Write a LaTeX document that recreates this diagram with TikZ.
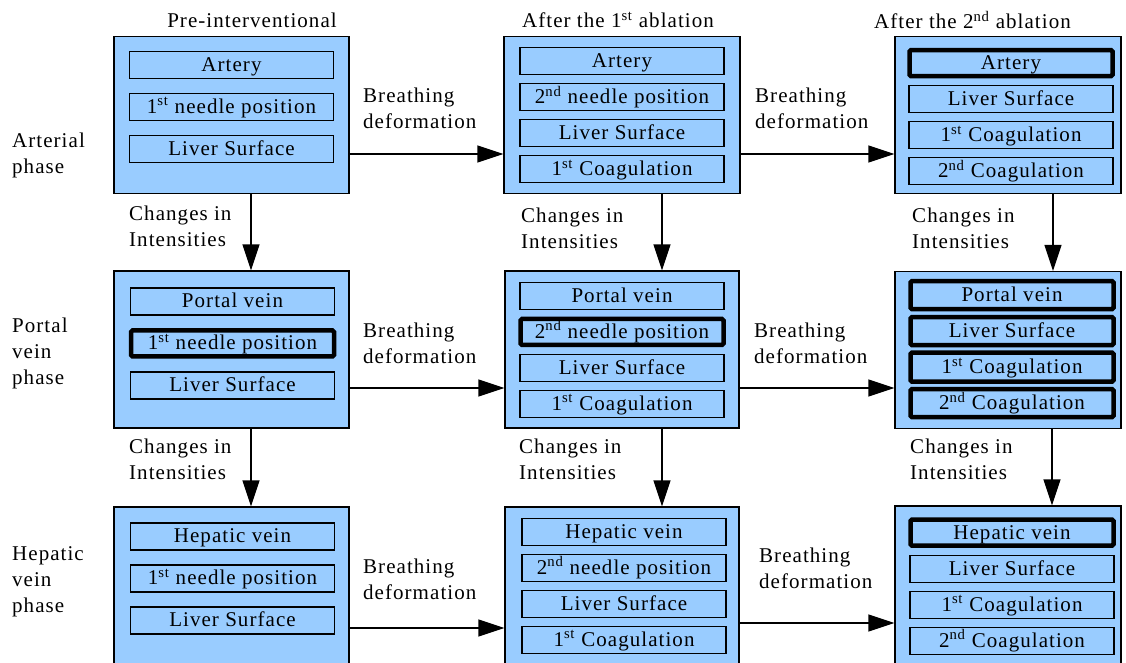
\documentclass[tikz,border=0pt]{standalone}
\usepackage{fontspec}
\setmainfont{Liberation Serif}[LetterSpace=5]
\usetikzlibrary{positioning,arrows.meta}

\definecolor{tissue}{RGB}{153,204,255}

\tikzset{
  every node/.style={font=\fontsize{21}{26}\selectfont},
  phase/.style={draw=black, fill=tissue, line width=1.2pt, minimum width=235pt, minimum height=157pt, inner sep=0pt},
  item/.style={draw=black, fill=tissue, line width=1.1pt, minimum width=204pt, minimum height=27pt, inner sep=0pt, text height=16pt, text depth=3pt},
  hot/.style={item, line width=4.5pt, rounded corners=1.5pt, minimum width=203pt, minimum height=26pt},
  note/.style={align=left, anchor=west, inner sep=0pt},
  flow/.style={line width=1.2pt, -{Triangle[length=26pt,width=17pt]}},
}

\newcommand{\st}{1\textsuperscript{st}}
\newcommand{\nd}{2\textsuperscript{nd}}

\begin{document}
\begin{tikzpicture}[x=1pt, y=-1pt, on grid]
   \useasboundingbox (0,0) rectangle (1126,663);
   \clip (0,0) rectangle (1126,663);

   % phases (rows) x ablation stages (columns)
   \node[phase]                                         (art1) at (231.5,115)   {};
   \node[phase, minimum width=236pt]                    (art2) at (622,115)     {};
   \node[phase, minimum width=226pt]                    (art3) at (1008,115)    {};
   \node[phase]                                         (por1) at (231.5,349.5) {};
   \node[phase, minimum width=234pt]                    (por2) at (622,349.5)   {};
   \node[phase, minimum width=226pt]                    (por3) at (1008,350)    {};
   \node[phase, minimum height=162pt]                   (hep1) at (231.5,588)   {};
   \node[phase, minimum width=234pt, minimum height=162pt] (hep2) at (622,588)  {};
   \node[phase, minimum width=226pt, minimum height=162pt] (hep3) at (1008,587) {};

   % arterial phase
   \node[item] (art1a) [below=15pt of art1.north] {Artery};
   \node[item] (art1b) [below=42pt of art1a] {\st{} needle position};
   \node[item] (art1c) [below=42pt of art1b] {Liver Surface};

   \node[item] (art2a) [below=11.5pt of art2.north] {Artery};
   \node[item] (art2b) [below=36pt of art2a] {\nd{} needle position};
   \node[item] (art2c) [below=36pt of art2b] {Liver Surface};
   \node[item] (art2d) [below=36pt of art2c] {\st{} Coagulation};

   \node[hot]  (art3a) [below=12pt of art3.north, xshift=3pt] {Artery};
   \node[item] (art3b) [below=36pt of art3a] {Liver Surface};
   \node[item] (art3c) [below=36pt of art3b] {\st{} Coagulation};
   \node[item] (art3d) [below=36pt of art3c] {\nd{} Coagulation};

   % portal vein phase
   \node[item] (por1a) [below=17pt of por1.north, xshift=1pt] {Portal vein};
   \node[hot]  (por1b) [below=42pt of por1a] {\st{} needle position};
   \node[item] (por1c) [below=42pt of por1b] {Liver Surface};

   \node[item] (por2a) [below=11.5pt of por2.north] {Portal vein};
   \node[hot]  (por2b) [below=36pt of por2a] {\nd{} needle position};
   \node[item] (por2c) [below=36pt of por2b] {Liver Surface};
   \node[item] (por2d) [below=36pt of por2c] {\st{} Coagulation};

   \node[hot, minimum height=28pt] (por3a) [below=8pt of por3.north, xshift=4pt] {Portal vein};
   \node[hot, minimum height=28pt] (por3b) [below=36pt of por3a] {Liver Surface};
   \node[hot, minimum height=29pt] (por3c) [below=36pt of por3b] {\st{} Coagulation};
   \node[hot, minimum height=28pt] (por3d) [below=36pt of por3c] {\nd{} Coagulation};

   % hepatic vein phase
   \node[item] (hep1a) [below=16pt of hep1.north, xshift=1pt] {Hepatic vein};
   \node[item] (hep1b) [below=42pt of hep1a] {\st{} needle position};
   \node[item] (hep1c) [below=42pt of hep1b] {Liver Surface};

   \node[item] (hep2a) [below=11.5pt of hep2.north, xshift=2pt] {Hepatic vein};
   \node[item] (hep2b) [below=36pt of hep2a] {\nd{} needle position};
   \node[item] (hep2c) [below=36pt of hep2b] {Liver Surface};
   \node[item] (hep2d) [below=36pt of hep2c] {\st{} Coagulation};

   \node[hot]  (hep3a) [below=12pt of hep3.north, xshift=4pt] {Hepatic vein};
   \node[item] (hep3b) [below=36pt of hep3a] {Liver Surface};
   \node[item] (hep3c) [below=36pt of hep3b] {\st{} Coagulation};
   \node[item] (hep3d) [below=36pt of hep3c] {\nd{} Coagulation};

   % column and row titles
   \node (pre)  at (252,20)   {Pre-interventional};
   \node (abl1) at (618,20)   {After the \st{} ablation};
   \node (abl2) at (972.5,20) {After the \nd{} ablation};
   \node[note] (rowart) at (12,155) {Arterial\\phase};
   \node[note] (rowpor) at (12,353) {Portal\\vein\\phase};
   \node[note] (rowhep) at (12,582) {Hepatic\\vein\\phase};

   % breathing deformation
   \draw[flow] ([yshift=-39pt]art1.east) -- ([yshift=-39pt]art2.west);
   \draw[flow] ([yshift=-39pt]art2.east) -- ([yshift=-39pt]art3.west);
   \draw[flow] ([yshift=-38.5pt]por1.east) -- ([yshift=-38.5pt]por2.west);
   \draw[flow] ([yshift=-38.5pt]por2.east) -- ([yshift=-38pt]por3.west);
   \draw[flow] ([yshift=-40pt]hep1.east) -- ([yshift=-40pt]hep2.west);
   \draw[flow] ([yshift=-35pt]hep2.east) -- ([yshift=-36pt]hep3.west);
   \node[note] (br1) at (363,108) {Breathing\\deformation};
   \node[note] (br2) at (755,108) {Breathing\\deformation};
   \node[note] (br3) at (363,343) {Breathing\\deformation};
   \node[note] (br4) at (754,343) {Breathing\\deformation};
   \node[note] (br5) at (363,579) {Breathing\\deformation};
   \node[note] (br6) at (759,568) {Breathing\\deformation};

   % changes in intensities
   \draw[flow] ([xshift=19.5pt]art1.south) -- ([xshift=19.5pt]por1.north);
   \draw[flow] ([xshift=40pt]art2.south) -- ([xshift=40pt]por2.north);
   \draw[flow] ([xshift=45pt]art3.south) -- ([xshift=45pt]por3.north);
   \draw[flow] ([xshift=19.5pt]por1.south) -- ([xshift=19.5pt]hep1.north);
   \draw[flow] ([xshift=40pt]por2.south) -- ([xshift=40pt]hep2.north);
   \draw[flow] ([xshift=44pt]por3.south) -- ([xshift=44pt]hep3.north);
   \node[note] (ch1) at (129,226) {Changes in\\Intensities};
   \node[note] (ch2) at (521,228) {Changes in\\Intensities};
   \node[note] (ch3) at (912,228) {Changes in\\Intensities};
   \node[note] (ch4) at (129,459) {Changes in\\Intensities};
   \node[note] (ch5) at (519,459) {Changes in\\Intensities};
   \node[note] (ch6) at (910,459) {Changes in\\Intensities};
\end{tikzpicture}
\end{document}
